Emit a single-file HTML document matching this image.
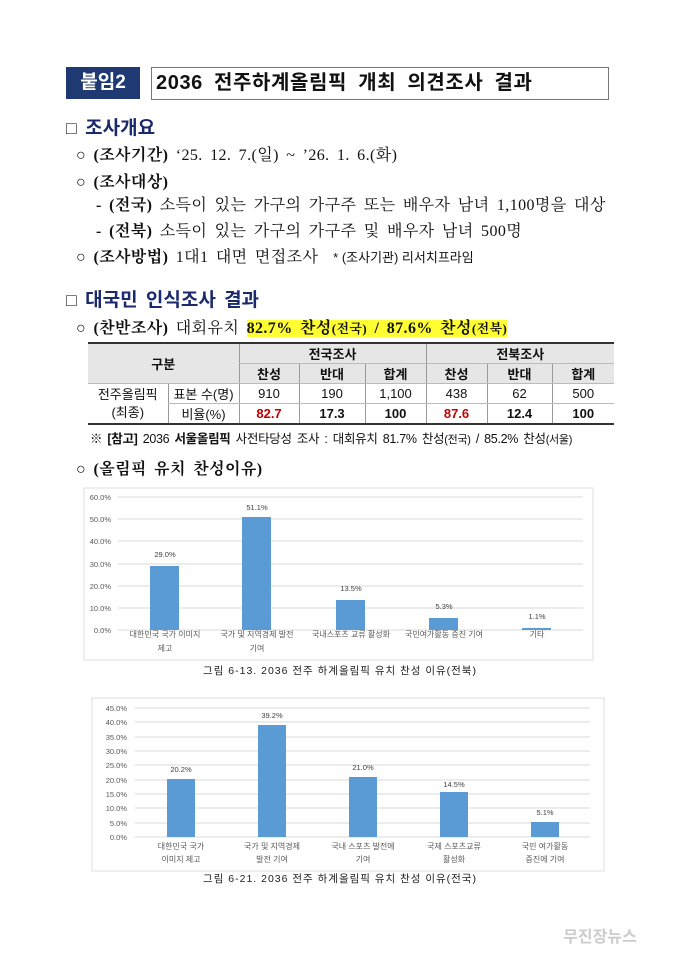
<!DOCTYPE html>
<html><head><meta charset="utf-8"><style>
body{margin:0;background:#fff;width:680px;height:962px;position:relative;overflow:hidden;font-family:"Liberation Sans","Noto Sans CJK KR",sans-serif;color:#111}
.a{position:absolute;white-space:nowrap}
.sr{font-family:"Liberation Serif","Noto Serif CJK SC",serif;font-size:16px;letter-spacing:0.4px;word-spacing:3px}
.h{font-size:19px;font-weight:bold;color:#1a2a6c;word-spacing:3px}
.h span{color:#333;font-weight:normal;font-size:18px}
table{border-collapse:collapse;font-size:13px;table-layout:fixed}
td{text-align:center;padding:0;height:19px;border-left:1px solid #999;border-bottom:1px solid #bbb;overflow:hidden}
</style></head><body>
<div class="a" style="left:66px;top:67px;width:74px;height:32px;background:#1f3a73;color:#fff;font-size:19px;font-weight:bold;line-height:32px;text-align:center">붙임2</div>
<div class="a" style="left:151px;top:67px;width:452px;height:31px;border:1px solid #777;font-size:20px;font-weight:bold;line-height:31px;padding-left:4px;letter-spacing:0.6px;word-spacing:5px">2036 전주하계올림픽 개최 의견조사 결과</div>
<div class="a h" style="left:66px;top:113px"><span>□</span> 조사개요</div>
<div class="a sr" style="left:76px;top:142px">○ <b>(조사기간)</b> ‘25. 12. 7.(일) ~ ’26. 1. 6.(화)</div>
<div class="a sr" style="left:76px;top:169px">○ <b>(조사대상)</b></div>
<div class="a sr" style="left:96px;top:192px"><b>- (전국)</b> 소득이 있는 가구의 가구주 또는 배우자 남녀 1,100명을 대상</div>
<div class="a sr" style="left:96px;top:218px"><b>- (전북)</b> 소득이 있는 가구의 가구주 및 배우자 남녀 500명</div>
<div class="a sr" style="left:76px;top:244px">○ <b>(조사방법)</b> 1대1 대면 면접조사 &nbsp;<span style="font-size:13px;letter-spacing:0;word-spacing:0;font-family:'Liberation Sans','Noto Sans CJK KR',sans-serif">* (조사기관) 리서치프라임</span></div>
<div class="a h" style="left:66px;top:285px"><span>□</span> 대국민 인식조사 결과</div>
<div class="a sr" style="left:76px;top:315px">○ <b>(찬반조사)</b> 대회유치 <b style="background:#ffff33">82.7% 찬성<span style="font-size:13px">(전국)</span> / 87.6% 찬성<span style="font-size:13px">(전북)</span></b></div>
<table class="a" style="left:88px;top:342px;width:526px;border-top:2px solid #333;border-bottom:2px solid #333">
<colgroup><col style="width:80px"><col style="width:71px"><col style="width:60px"><col style="width:66px"><col style="width:61px"><col style="width:61px"><col style="width:65px"><col style="width:62px"></colgroup>
<tr style="background:#e6e6e6;font-weight:bold"><td colspan="2" rowspan="2" style="border-left:none">구분</td><td colspan="3">전국조사</td><td colspan="3">전북조사</td></tr>
<tr style="background:#e6e6e6;font-weight:bold"><td>찬성</td><td>반대</td><td>합계</td><td>찬성</td><td>반대</td><td>합계</td></tr>
<tr><td rowspan="2" style="border-left:none;line-height:18px">전주올림픽<br>(최종)</td><td>표본 수(명)</td><td>910</td><td>190</td><td>1,100</td><td>438</td><td>62</td><td>500</td></tr>
<tr style="font-weight:bold"><td style="font-weight:normal">비율(%)</td><td style="color:#c00000">82.7</td><td>17.3</td><td>100</td><td style="color:#c00000">87.6</td><td>12.4</td><td>100</td></tr>
</table>
<div class="a" style="left:90px;top:428px;font-size:12.5px;letter-spacing:-0.3px;word-spacing:2px">※ <b>[참고]</b> 2036 <b>서울올림픽</b> 사전타당성 조사 : 대회유치 81.7% 찬성<span style="font-size:11px">(전국)</span> / 85.2% 찬성<span style="font-size:11px">(서울)</span></div>
<div class="a sr" style="left:76px;top:456px">○ <b>(올림픽 유치 찬성이유)</b></div>

<svg class="a" style="left:0;top:0" width="680" height="962" font-family="Liberation Sans,Noto Sans CJK KR,sans-serif">
<rect x="84" y="488" width="509" height="172" fill="#fff" stroke="#ddd"/>
<g stroke="#d9d9d9" stroke-width="1">
<line x1="118" x2="583" y1="497" y2="497"/><line x1="118" x2="583" y1="519" y2="519"/><line x1="118" x2="583" y1="541" y2="541"/><line x1="118" x2="583" y1="564" y2="564"/><line x1="118" x2="583" y1="586" y2="586"/><line x1="118" x2="583" y1="608" y2="608"/><line x1="118" x2="583" y1="630" y2="630"/></g>
<g font-size="7.5" fill="#595959" text-anchor="end"><text x="111" y="500">60.0%</text><text x="111" y="522">50.0%</text><text x="111" y="544">40.0%</text><text x="111" y="567">30.0%</text><text x="111" y="589">20.0%</text><text x="111" y="611">10.0%</text><text x="111" y="633">0.0%</text></g>
<g fill="#5b9bd5"><rect x="150" y="566" width="29" height="64"/><rect x="242" y="517" width="29" height="113"/><rect x="336" y="600" width="29" height="30"/><rect x="429" y="618" width="29" height="12"/><rect x="522" y="628" width="29" height="2"/></g>
<g font-size="7.5" fill="#404040" text-anchor="middle"><text x="165" y="557">29.0%</text><text x="257" y="510">51.1%</text><text x="351" y="591">13.5%</text><text x="444" y="609">5.3%</text><text x="537" y="619">1.1%</text></g>
<g font-size="8" fill="#595959" text-anchor="middle"><text x="165" y="637">대한민국 국가 이미지</text><text x="165" y="651">제고</text><text x="257" y="637">국가 및 지역경제 발전</text><text x="257" y="651">기여</text><text x="351" y="637">국내스포츠 교류 활성화</text><text x="444" y="637">국민여가활동 증진 기여</text><text x="537" y="637">기타</text></g>
<text x="340" y="674" font-size="10.5" text-anchor="middle" fill="#222" letter-spacing="1">그림 6-13. 2036 전주 하계올림픽 유치 찬성 이유(전북)</text>

<rect x="92" y="698" width="512" height="173" fill="#fff" stroke="#ddd"/>
<g stroke="#d9d9d9"><line x1="135" x2="590" y1="708" y2="708"/><line x1="135" x2="590" y1="722" y2="722"/><line x1="135" x2="590" y1="737" y2="737"/><line x1="135" x2="590" y1="751" y2="751"/><line x1="135" x2="590" y1="765" y2="765"/><line x1="135" x2="590" y1="780" y2="780"/><line x1="135" x2="590" y1="794" y2="794"/><line x1="135" x2="590" y1="808" y2="808"/><line x1="135" x2="590" y1="823" y2="823"/><line x1="135" x2="590" y1="837" y2="837"/></g>
<g font-size="7.5" fill="#595959" text-anchor="end"><text x="127" y="711">45.0%</text><text x="127" y="725">40.0%</text><text x="127" y="740">35.0%</text><text x="127" y="754">30.0%</text><text x="127" y="768">25.0%</text><text x="127" y="783">20.0%</text><text x="127" y="797">15.0%</text><text x="127" y="811">10.0%</text><text x="127" y="826">5.0%</text><text x="127" y="840">0.0%</text></g>
<g fill="#5b9bd5"><rect x="167" y="779" width="28" height="58"/><rect x="258" y="725" width="28" height="112"/><rect x="349" y="777" width="28" height="60"/><rect x="440" y="792" width="28" height="45"/><rect x="531" y="822" width="28" height="15"/></g>
<g font-size="7.5" fill="#404040" text-anchor="middle"><text x="181" y="772">20.2%</text><text x="272" y="718">39.2%</text><text x="363" y="770">21.0%</text><text x="454" y="787">14.5%</text><text x="545" y="815">5.1%</text></g>
<g font-size="8" fill="#595959" text-anchor="middle"><text x="181" y="849">대한민국 국가</text><text x="181" y="862">이미지 제고</text><text x="272" y="849">국가 및 지역경제</text><text x="272" y="862">발전 기여</text><text x="363" y="849">국내 스포츠 발전에</text><text x="363" y="862">기여</text><text x="454" y="849">국제 스포츠교류</text><text x="454" y="862">활성화</text><text x="545" y="849">국민 여가활동</text><text x="545" y="862">증진에 기여</text></g>
<text x="340" y="882" font-size="10.5" text-anchor="middle" fill="#222" letter-spacing="1">그림 6-21. 2036 전주 하계올림픽 유치 찬성 이유(전국)</text>
<text x="600" y="942" font-size="16" font-weight="bold" text-anchor="middle" fill="#ccc">무진장뉴스</text>
</svg>
</body></html>
